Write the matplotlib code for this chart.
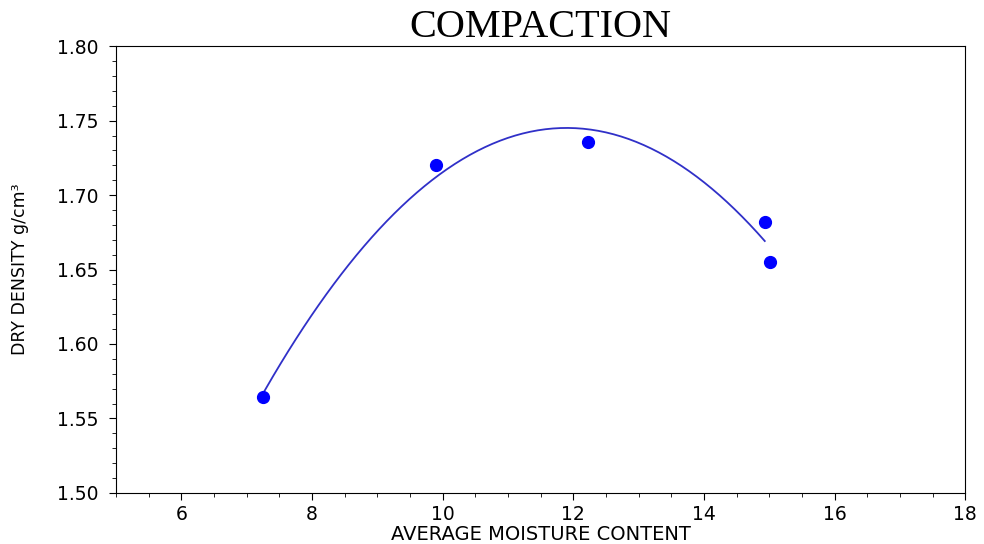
import numpy as np
import matplotlib
matplotlib.use("Agg")
import matplotlib.pyplot as plt
from matplotlib.ticker import MultipleLocator

# compaction test readings
moisture = np.array([7.25, 9.9, 12.23, 14.93, 15.01])
dry_density = np.array([1.5645, 1.720, 1.736, 1.682, 1.655])

x_ticks = [6, 8, 10, 12, 14, 16, 18]
y_ticks = [1.50, 1.55, 1.60, 1.65, 1.70, 1.75, 1.80]

fig = plt.figure(figsize=(9.84, 5.44), dpi=100)
ax = fig.add_axes([0.118, 0.094, 0.863, 0.821])

# quadratic fit through the points, drawn up to the 4th reading
coef = np.polyfit(moisture, dry_density, 2)
xs = np.linspace(moisture[0], moisture[3], 200)
ax.plot(xs, np.polyval(coef, xs), color="#3030c8", lw=1.3)
ax.plot(moisture, dry_density, "o", color="blue", ms=8.5)

ax.set_xlim(5, 18)
ax.set_ylim(1.50, 1.80)
ax.set_xticks(x_ticks)
ax.set_yticks(y_ticks)
ax.set_yticklabels(["%.2f" % v for v in y_ticks])
ax.xaxis.set_minor_locator(MultipleLocator(0.5))
ax.yaxis.set_minor_locator(MultipleLocator(0.01))
ax.tick_params(which="major", length=5, labelsize=13.5)
ax.tick_params(which="minor", length=3)
ax.tick_params(axis="y", which="major", pad=8)

ax.set_xlabel("AVERAGE MOISTURE CONTENT", fontsize=14, labelpad=1)
ax.set_ylabel("DRY DENSITY g/cm³", fontsize=12.5,
              family=["Liberation Sans Narrow", "DejaVu Sans"], labelpad=20)
ax.set_title("COMPACTION", fontsize=29, family="Liberation Serif", pad=5)

fig.savefig("out.png", dpi=100)
